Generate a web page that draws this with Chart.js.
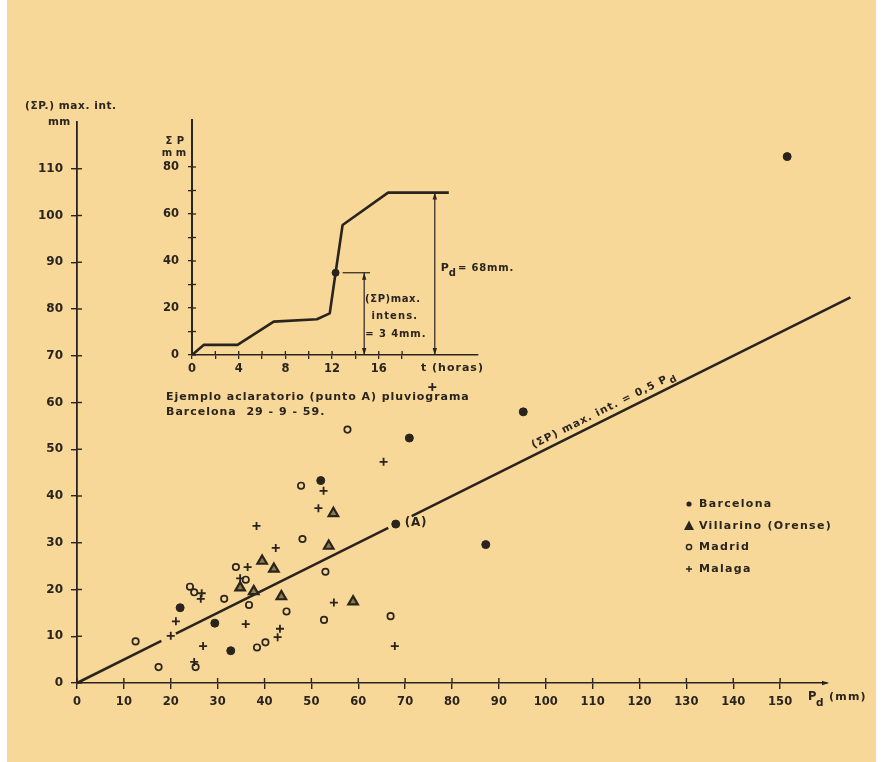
<!DOCTYPE html>
<html>
<head>
<meta charset="utf-8">
<script src="https://cdn.jsdelivr.net/npm/chart.js@4.4.1/dist/chart.umd.min.js"></script>
<style>
html,body{margin:0;padding:0;background:#ffffff;}
#wrap{position:relative;width:886px;height:762px;overflow:hidden;}
#main{position:absolute;left:0;top:0;}
#inset{position:absolute;left:130px;top:100px;}
</style>
</head>
<body>
<div id="wrap">
<canvas id="main" width="886" height="762"></canvas>
<canvas id="inset" width="430" height="330"></canvas>
</div>
<script>
// ---------------- DATA ----------------
const seriesNames = ['Barcelona', 'Villarino (Orense)', 'Madrid', 'Malaga'];

// [Pd (mm), (ΣP) max. int. (mm)]
const barcelona = [[151.5,112.6],[95.2,58.0],[87.2,29.6],[70.9,52.4],[52.0,43.3],[68,34],[22.0,16.1],[29.4,12.8],[32.8,6.9]];
const villarino = [[39.5,26.1],[42.0,24.4],[34.8,20.4],[37.7,19.6],[43.6,18.5],[54.7,36.3],[53.7,29.3],[58.9,17.4]];
const madrid = [[57.7,54.2],[47.8,42.2],[48.1,30.8],[53.0,23.8],[52.7,13.5],[66.9,14.3],[33.9,24.8],[36.0,22.1],[36.7,16.7],[44.7,15.3],[24.1,20.6],[25.0,19.4],[31.4,18.0],[12.5,8.9],[40.2,8.7],[38.4,7.6],[17.4,3.4],[25.3,3.4]];
const malaga = [[75.8,63.3],[65.4,47.3],[52.6,41.1],[51.5,37.4],[38.3,33.6],[42.4,28.9],[36.4,24.8],[34.8,22.4],[26.6,19.2],[26.4,18.0],[21.1,13.2],[36.0,12.6],[20.0,10.1],[43.3,11.6],[42.8,9.8],[26.9,7.9],[54.8,17.2],[67.8,7.9],[25.0,4.5]];

// line (ΣP) max. int. = 0,5 Pd  (null = gap in the drawn line)
const ratioLine = [[0,0],[18,9],[19.5,null],[21.1,10.55],[66.4,33.2],[69,null],[71.4,35.7],[165,82.5]];
const ratioLabel = '(ΣP) max. int. = 0,5 P';

const xTickValues = [0,10,20,30,40,50,60,70,80,90,100,110,120,130,140,150];
const yTickValues = [0,10,20,30,40,50,60,70,80,90,100,110];

// inset: pluviograma Barcelona 29-9-59
const insetHours = [0, 1.0, 3.9, 7.0, 10.7, 11.8, 12.3, 12.9, 16.8, 22.0];
const insetMm    = [0, 4.3, 4.3, 14.2, 15.2, 17.7, 35, 55.3, 69.1, 69.1];
const pointA = [12.3, 35];
const maxIntMark = [14.75, 35];   // (ΣP) max intens. = 34 mm
const pdMark = [20.8, 69.1];      // Pd = 68 mm
const insetXTicks = [0,2,4,6,8,10,12,14,16,18];
const insetYTicks = [0,10,20,30,40,50,60,70,80];

// ---------------- STYLE ----------------
const INK = '#29241d';
const PAPER = '#F8D898';
const FAM = '"DejaVu Sans"';

function xy(arr){ return arr.map(p => ({x:p[0], y:p[1]})); }
function txt(ctx, s, x, y, size, align, spacing){
  ctx.font = 'bold ' + size + 'px ' + FAM;
  ctx.letterSpacing = (spacing === undefined ? 0.5 : spacing) + 'px';
  ctx.textAlign = align || 'left';
  ctx.textBaseline = 'middle';
  ctx.fillStyle = INK;
  ctx.fillText(s, x, y);
  const w = ctx.measureText(s).width;
  ctx.letterSpacing = '0px';
  return w;
}
function arrowHead(ctx, x, y, dir){ // dir: 1 down, -1 up
  ctx.beginPath();
  ctx.moveTo(x, y);
  ctx.lineTo(x - 2.2, y - dir*7);
  ctx.lineTo(x + 2.2, y - dir*7);
  ctx.closePath();
  ctx.fill();
}

// ---------------- MAIN CHART ----------------
const paperPlugin = {
  id:'paper',
  beforeDraw(chart){
    const c = chart.ctx;
    c.save();
    c.fillStyle = '#ffffff';
    c.fillRect(0,0,chart.width,chart.height);
    c.fillStyle = PAPER;
    c.fillRect(7,0,869,chart.height);
    c.restore();
  }
};

const mainDeco = {
  id:'mainDeco',
  afterDraw(chart){
    const c = chart.ctx, xs = chart.scales.x, ys = chart.scales.y;
    const L = chart.chartArea.left, B = chart.chartArea.bottom;
    c.save();
    c.strokeStyle = INK; c.fillStyle = INK; c.lineWidth = 1.4;
    // inner halves of tick marks
    yTickValues.forEach(v => { const p = ys.getPixelForValue(v); c.beginPath(); c.moveTo(L, p); c.lineTo(L+5, p); c.stroke(); });
    xTickValues.forEach(v => { const p = xs.getPixelForValue(v); c.beginPath(); c.moveTo(p, B); c.lineTo(p, B-5); c.stroke(); });
    // arrow at end of x axis
    const xe = xs.getPixelForValue(160);
    c.beginPath(); c.moveTo(xe+2, B); c.lineTo(xe-5, B-2.2); c.lineTo(xe-5, B+2.2); c.closePath(); c.fill();

    // axis titles
    txt(c, '(ΣP.) max. int.', 25, 106, 10.5, 'left', 0.6);
    txt(c, 'mm', 48, 122, 10.5, 'left', 0.4);
    txt(c, 'P', 808, 697, 11.5, 'left', 0);
    txt(c, 'd', 816, 703, 10.5, 'left', 0);
    txt(c, '(mm)', 829, 697, 11, 'left', 1.2);

    // point (A) label
    const ax = xs.getPixelForValue(barcelona[5][0]), ay = ys.getPixelForValue(barcelona[5][1]);
    txt(c, '(A)', ax + 9, ay - 1, 12, 'left', 0.8);

    // line label rotated along the line
    const x0 = xs.getPixelForValue(98), y0 = ys.getPixelForValue(49);
    const ang = Math.atan2(ys.getPixelForValue(75) - ys.getPixelForValue(0), xs.getPixelForValue(150) - xs.getPixelForValue(0));
    c.translate(x0, y0); c.rotate(ang);
    const w = txt(c, ratioLabel, 0, -9, 10.5, 'left', 1.1);
    txt(c, 'd', w + 1, -5, 9.5, 'left', 0);
    c.setTransform(1,0,0,1,0,0);

    // legend
    const lx = 688, ly = [504, 526, 547, 569];
    c.fillStyle = INK; c.strokeStyle = INK;
    c.beginPath(); c.arc(lx+1, ly[0], 2.6, 0, Math.PI*2); c.fill();
    c.beginPath(); c.moveTo(lx+1, ly[1]-5.5); c.lineTo(lx+6, ly[1]+4); c.lineTo(lx-4, ly[1]+4); c.closePath(); c.fill();
    c.lineWidth = 1.5; c.beginPath(); c.arc(lx+1, ly[2], 2.6, 0, Math.PI*2); c.stroke();
    c.lineWidth = 1.4; c.beginPath(); c.moveTo(lx-2, ly[3]); c.lineTo(lx+4, ly[3]); c.moveTo(lx+1, ly[3]-3); c.lineTo(lx+1, ly[3]+3); c.stroke();
    seriesNames.forEach((n, i) => txt(c, n, 699, ly[i], 11, 'left', 1.3));

    // inset texts (fixed)
    txt(c, 'Σ P', 175, 141, 10, 'center', 0.5);
    txt(c, 'm m', 174, 153, 10, 'center', 0);
    txt(c, 't (horas)', 421, 368, 11, 'left', 1.0);
    txt(c, 'Ejemplo aclaratorio (punto A) pluviograma', 166, 397, 11, 'left', 0.95);
    txt(c, 'Barcelona  29 - 9 - 59.', 166, 412, 11, 'left', 1.0);
    c.restore();
  }
};

const tickFont = {family:'DejaVu Sans', weight:'bold', size:11.5};

new Chart(document.getElementById('main'), {
  type:'scatter',
  data:{datasets:[
    {label:seriesNames[0], data:xy(barcelona), pointStyle:'circle', pointRadius:4, pointBackgroundColor:INK, pointBorderColor:INK, pointBorderWidth:1, order:1},
    {label:seriesNames[1], data:xy(villarino), pointStyle:'triangle', pointRadius:5.5, pointBackgroundColor:'#8a7a4c', pointBorderColor:INK, pointBorderWidth:2.2, order:1},
    {label:seriesNames[2], data:xy(madrid), pointStyle:'circle', pointRadius:3.2, pointBackgroundColor:'rgba(0,0,0,0)', pointBorderColor:INK, pointBorderWidth:1.7, order:1},
    {label:seriesNames[3], data:xy(malaga), pointStyle:'cross', pointRadius:4, pointBorderColor:INK, pointBorderWidth:1.8, order:1},
    {type:'line', label:'0,5 Pd', data:xy(ratioLine), borderColor:INK, borderWidth:2.6, pointRadius:0, showLine:true, spanGaps:false, clip:false, order:2}
  ]},
  options:{
    responsive:false, animation:false, events:[],
    layout:{padding:{left:0, top:122, right:59, bottom:39}},
    plugins:{legend:{display:false}, tooltip:{enabled:false}},
    scales:{
      x:{type:'linear', position:'bottom', min:0, max:160,
        afterBuildTicks:s => { s.ticks = xTickValues.map(v => ({value:v})); },
        afterFit:s => { s.height = 40; },
        ticks:{color:INK, font:tickFont, padding:6, maxRotation:0, autoSkip:false},
        grid:{drawOnChartArea:false, drawTicks:true, tickLength:6, color:INK, lineWidth:1.4},
        border:{display:true, color:INK, width:1.6}},
      y:{type:'linear', position:'left', min:0, max:120,
        afterBuildTicks:s => { s.ticks = yTickValues.map(v => ({value:v})); },
        afterFit:s => { s.width = 77; },
        ticks:{color:INK, font:{family:'DejaVu Sans', weight:'bold', size:12}, padding:8, autoSkip:false},
        grid:{drawOnChartArea:false, drawTicks:true, tickLength:6, color:INK, lineWidth:1.4},
        border:{display:true, color:INK, width:1.8}}
    }
  },
  plugins:[paperPlugin, mainDeco]
});

// ---------------- INSET CHART ----------------
const insetDeco = {
  id:'insetDeco',
  afterDraw(chart){
    const c = chart.ctx, xs = chart.scales.x, ys = chart.scales.y;
    const L = chart.chartArea.left, B = chart.chartArea.bottom;
    c.save();
    c.strokeStyle = INK; c.fillStyle = INK; c.lineWidth = 1.3;
    insetYTicks.forEach(v => { const p = ys.getPixelForValue(v); c.beginPath(); c.moveTo(L, p); c.lineTo(L+4, p); c.stroke(); });
    insetXTicks.forEach(v => { const p = xs.getPixelForValue(v); c.beginPath(); c.moveTo(p, B); c.lineTo(p, B-4); c.stroke(); });
    // arrowheads of dimension lines
    const mx = xs.getPixelForValue(maxIntMark[0]);
    arrowHead(c, mx, ys.getPixelForValue(0), 1);
    arrowHead(c, mx, ys.getPixelForValue(maxIntMark[1]), -1);
    const px = xs.getPixelForValue(pdMark[0]);
    arrowHead(c, px, ys.getPixelForValue(0), 1);
    arrowHead(c, px, ys.getPixelForValue(pdMark[1]), -1);
    // labels
    const cx = xs.getPixelForValue(17.2);
    txt(c, '(ΣP)max.', cx, ys.getPixelForValue(23.8), 10, 'center', 0.6);
    txt(c, 'intens.', cx + 2, ys.getPixelForValue(16.6), 10, 'center', 1.1);
    txt(c, '= 3 4mm.', cx + 3, ys.getPixelForValue(8.9), 10, 'center', 0.9);
    const tx = px + 6, ty = ys.getPixelForValue(37);
    const w = txt(c, 'P', tx, ty, 11, 'left', 0);
    const wd = txt(c, 'd', tx + w, ty + 5, 10, 'left', 0);
    txt(c, '= 68mm.', tx + w + wd + 2, ty, 10, 'left', 0.8);
    c.restore();
  }
};

new Chart(document.getElementById('inset'), {
  type:'scatter',
  data:{datasets:[
    {type:'line', label:'pluviograma', data:insetHours.map((h,i) => ({x:h, y:insetMm[i]})), borderColor:INK, borderWidth:2.6, pointRadius:0, tension:0, borderJoinStyle:'round', order:2},
    {label:'A', data:[{x:pointA[0], y:pointA[1]}], pointRadius:3.5, pointBackgroundColor:INK, pointBorderColor:INK, order:1},
    {type:'line', label:'maxIntH', data:[{x:pointA[0]+0.6, y:maxIntMark[1]}, {x:maxIntMark[0]+0.5, y:maxIntMark[1]}], borderColor:INK, borderWidth:1.2, pointRadius:0, order:3},
    {type:'line', label:'maxIntV', data:[{x:maxIntMark[0], y:maxIntMark[1]}, {x:maxIntMark[0], y:0}], borderColor:INK, borderWidth:1.2, pointRadius:0, order:3},
    {type:'line', label:'pdV', data:[{x:pdMark[0], y:pdMark[1]}, {x:pdMark[0], y:0}], borderColor:INK, borderWidth:1.2, pointRadius:0, order:3}
  ]},
  options:{
    responsive:false, animation:false, events:[],
    layout:{padding:{left:0, top:20, right:82, bottom:45}},
    plugins:{legend:{display:false}, tooltip:{enabled:false}},
    scales:{
      x:{type:'linear', min:0, max:24.5,
        afterBuildTicks:s => { s.ticks = insetXTicks.map(v => ({value:v})); },
        afterFit:s => { s.height = 30; },
        ticks:{color:INK, font:tickFont, padding:3, maxRotation:0, autoSkip:false, callback:v => (v % 4 === 0 ? String(v) : '')},
        grid:{drawOnChartArea:false, drawTicks:true, tickLength:4, color:INK, lineWidth:1.3},
        border:{display:true, color:INK, width:1.6}},
      y:{type:'linear', min:0, max:100,
        afterBuildTicks:s => { s.ticks = insetYTicks.map(v => ({value:v})); },
        afterFit:s => { s.width = 62; },
        ticks:{color:INK, font:tickFont, padding:9, autoSkip:false, callback:v => (v % 20 === 0 ? String(v) : '')},
        grid:{drawOnChartArea:false, drawTicks:true, tickLength:4, color:INK, lineWidth:1.3},
        border:{display:true, color:INK, width:2}}
    }
  },
  plugins:[insetDeco]
});
</script>
</body>
</html>
